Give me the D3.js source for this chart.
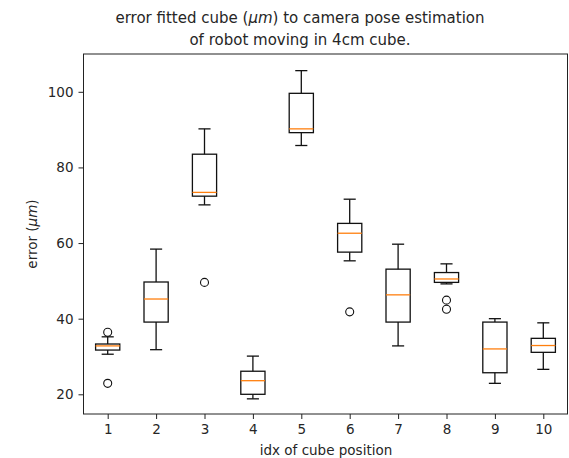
<!DOCTYPE html>
<html><head><meta charset="utf-8">
<script src="https://cdn.jsdelivr.net/npm/d3@7"></script>
<style>body{margin:0;background:#fff}svg{display:block}text{font-family:"DejaVu Sans",sans-serif;fill:#262626}</style>
</head><body><svg id="c" width="569" height="458"></svg>
<script>
const categories = ["1","2","3","4","5","6","7","8","9","10"];
const whiskerLow  = [30.6, 31.8, 70.1, 18.8, 85.8, 55.3, 32.8, 49.2, 22.9, 26.6];
const q1          = [31.7, 39.1, 72.4, 20.0, 89.2, 57.6, 39.1, 49.6, 25.7, 31.1];
const median      = [32.8, 45.2, 73.4, 23.6, 90.2, 62.6, 46.3, 50.5, 32.0, 32.9];
const q3          = [33.3, 49.7, 83.5, 26.1, 99.6, 65.2, 53.1, 52.2, 39.1, 34.8];
const whiskerHigh = [35.2, 58.4, 90.2, 30.1, 105.6, 71.6, 59.7, 54.5, 40.0, 38.9];
const outliers    = [[36.4, 22.9], [], [49.6], [], [], [41.8], [], [44.9, 42.5], [], []];
const yTicks = [20, 40, 60, 80, 100];

const svg = d3.select("#c");
const L = 83.5, R = 567.5, T = 54, B = 414;
const x = d3.scaleLinear().domain([0.5, 10.5]).range([L, R]);
const y = d3.scaleLinear().domain([14.79, 110.0]).range([B, T]);
const bw = x(1.25) - x(1);   // half box width
const cw = bw / 2;           // half cap width

const data = categories.map((c, i) => ({
  pos: i + 1, lo: whiskerLow[i], q1: q1[i], med: median[i], q3: q3[i], hi: whiskerHigh[i], out: outliers[i]
}));

const g = svg.append("g");
const lw = 1.3;
data.forEach(d => {
  const cx = x(d.pos);
  g.append("line").attr("x1", cx).attr("x2", cx).attr("y1", y(d.q1)).attr("y2", y(d.lo)).attr("stroke", "#111").attr("stroke-width", lw);
  g.append("line").attr("x1", cx).attr("x2", cx).attr("y1", y(d.q3)).attr("y2", y(d.hi)).attr("stroke", "#111").attr("stroke-width", lw);
  g.append("line").attr("x1", cx - cw).attr("x2", cx + cw).attr("y1", y(d.lo)).attr("y2", y(d.lo)).attr("stroke", "#111").attr("stroke-width", lw);
  g.append("line").attr("x1", cx - cw).attr("x2", cx + cw).attr("y1", y(d.hi)).attr("y2", y(d.hi)).attr("stroke", "#111").attr("stroke-width", lw);
  g.append("rect").attr("x", cx - bw).attr("width", 2 * bw).attr("y", y(d.q3)).attr("height", y(d.q1) - y(d.q3))
    .attr("fill", "none").attr("stroke", "#111").attr("stroke-width", lw);
  g.append("line").attr("x1", cx - bw).attr("x2", cx + bw).attr("y1", y(d.med)).attr("y2", y(d.med)).attr("stroke", "#ff7f0e").attr("stroke-width", lw);
  d.out.forEach(o => {
    g.append("circle").attr("cx", cx).attr("cy", y(o)).attr("r", 4).attr("fill", "none").attr("stroke", "#111").attr("stroke-width", 1.1);
  });
});

// frame
svg.append("rect").attr("x", L).attr("y", T).attr("width", R - L).attr("height", B - T)
  .attr("fill", "none").attr("stroke", "#222").attr("stroke-width", 1);

// axes
const xAxis = d3.axisBottom(x).tickValues(data.map(d => d.pos)).tickFormat((d, i) => categories[i]).tickSize(5).tickPadding(5);
const xg = svg.append("g").attr("transform", `translate(0,${B})`).call(xAxis);
const yAxis = d3.axisLeft(y).tickValues(yTicks).tickSize(5).tickPadding(5);
const yg = svg.append("g").attr("transform", `translate(${L},0)`).call(yAxis);
[xg, yg].forEach(a => {
  a.select(".domain").remove();
  a.selectAll(".tick line").attr("stroke", "#222");
  a.selectAll(".tick text").attr("font-family", "DejaVu Sans").attr("font-size", 13.5).attr("fill", "#262626");
});

svg.append("text").attr("x", 326).attr("y", 455).attr("text-anchor", "middle").attr("font-size", 13.5).text("idx of cube position");

const yl = svg.append("text").attr("transform", `translate(37,${(T + B) / 2}) rotate(-90)`).attr("text-anchor", "middle").attr("font-size", 13.5);
yl.append("tspan").text("error (");
yl.append("tspan").attr("font-style", "italic").text("μm");
yl.append("tspan").text(")");

const t1 = svg.append("text").attr("x", 300).attr("y", 23).attr("text-anchor", "middle").attr("font-size", 15);
t1.append("tspan").text("error fitted cube (");
t1.append("tspan").attr("font-style", "italic").text("μm");
t1.append("tspan").text(") to camera pose estimation");
svg.append("text").attr("x", 300).attr("y", 45).attr("text-anchor", "middle").attr("font-size", 15).text("of robot moving in 4cm cube.");
</script></body></html>
